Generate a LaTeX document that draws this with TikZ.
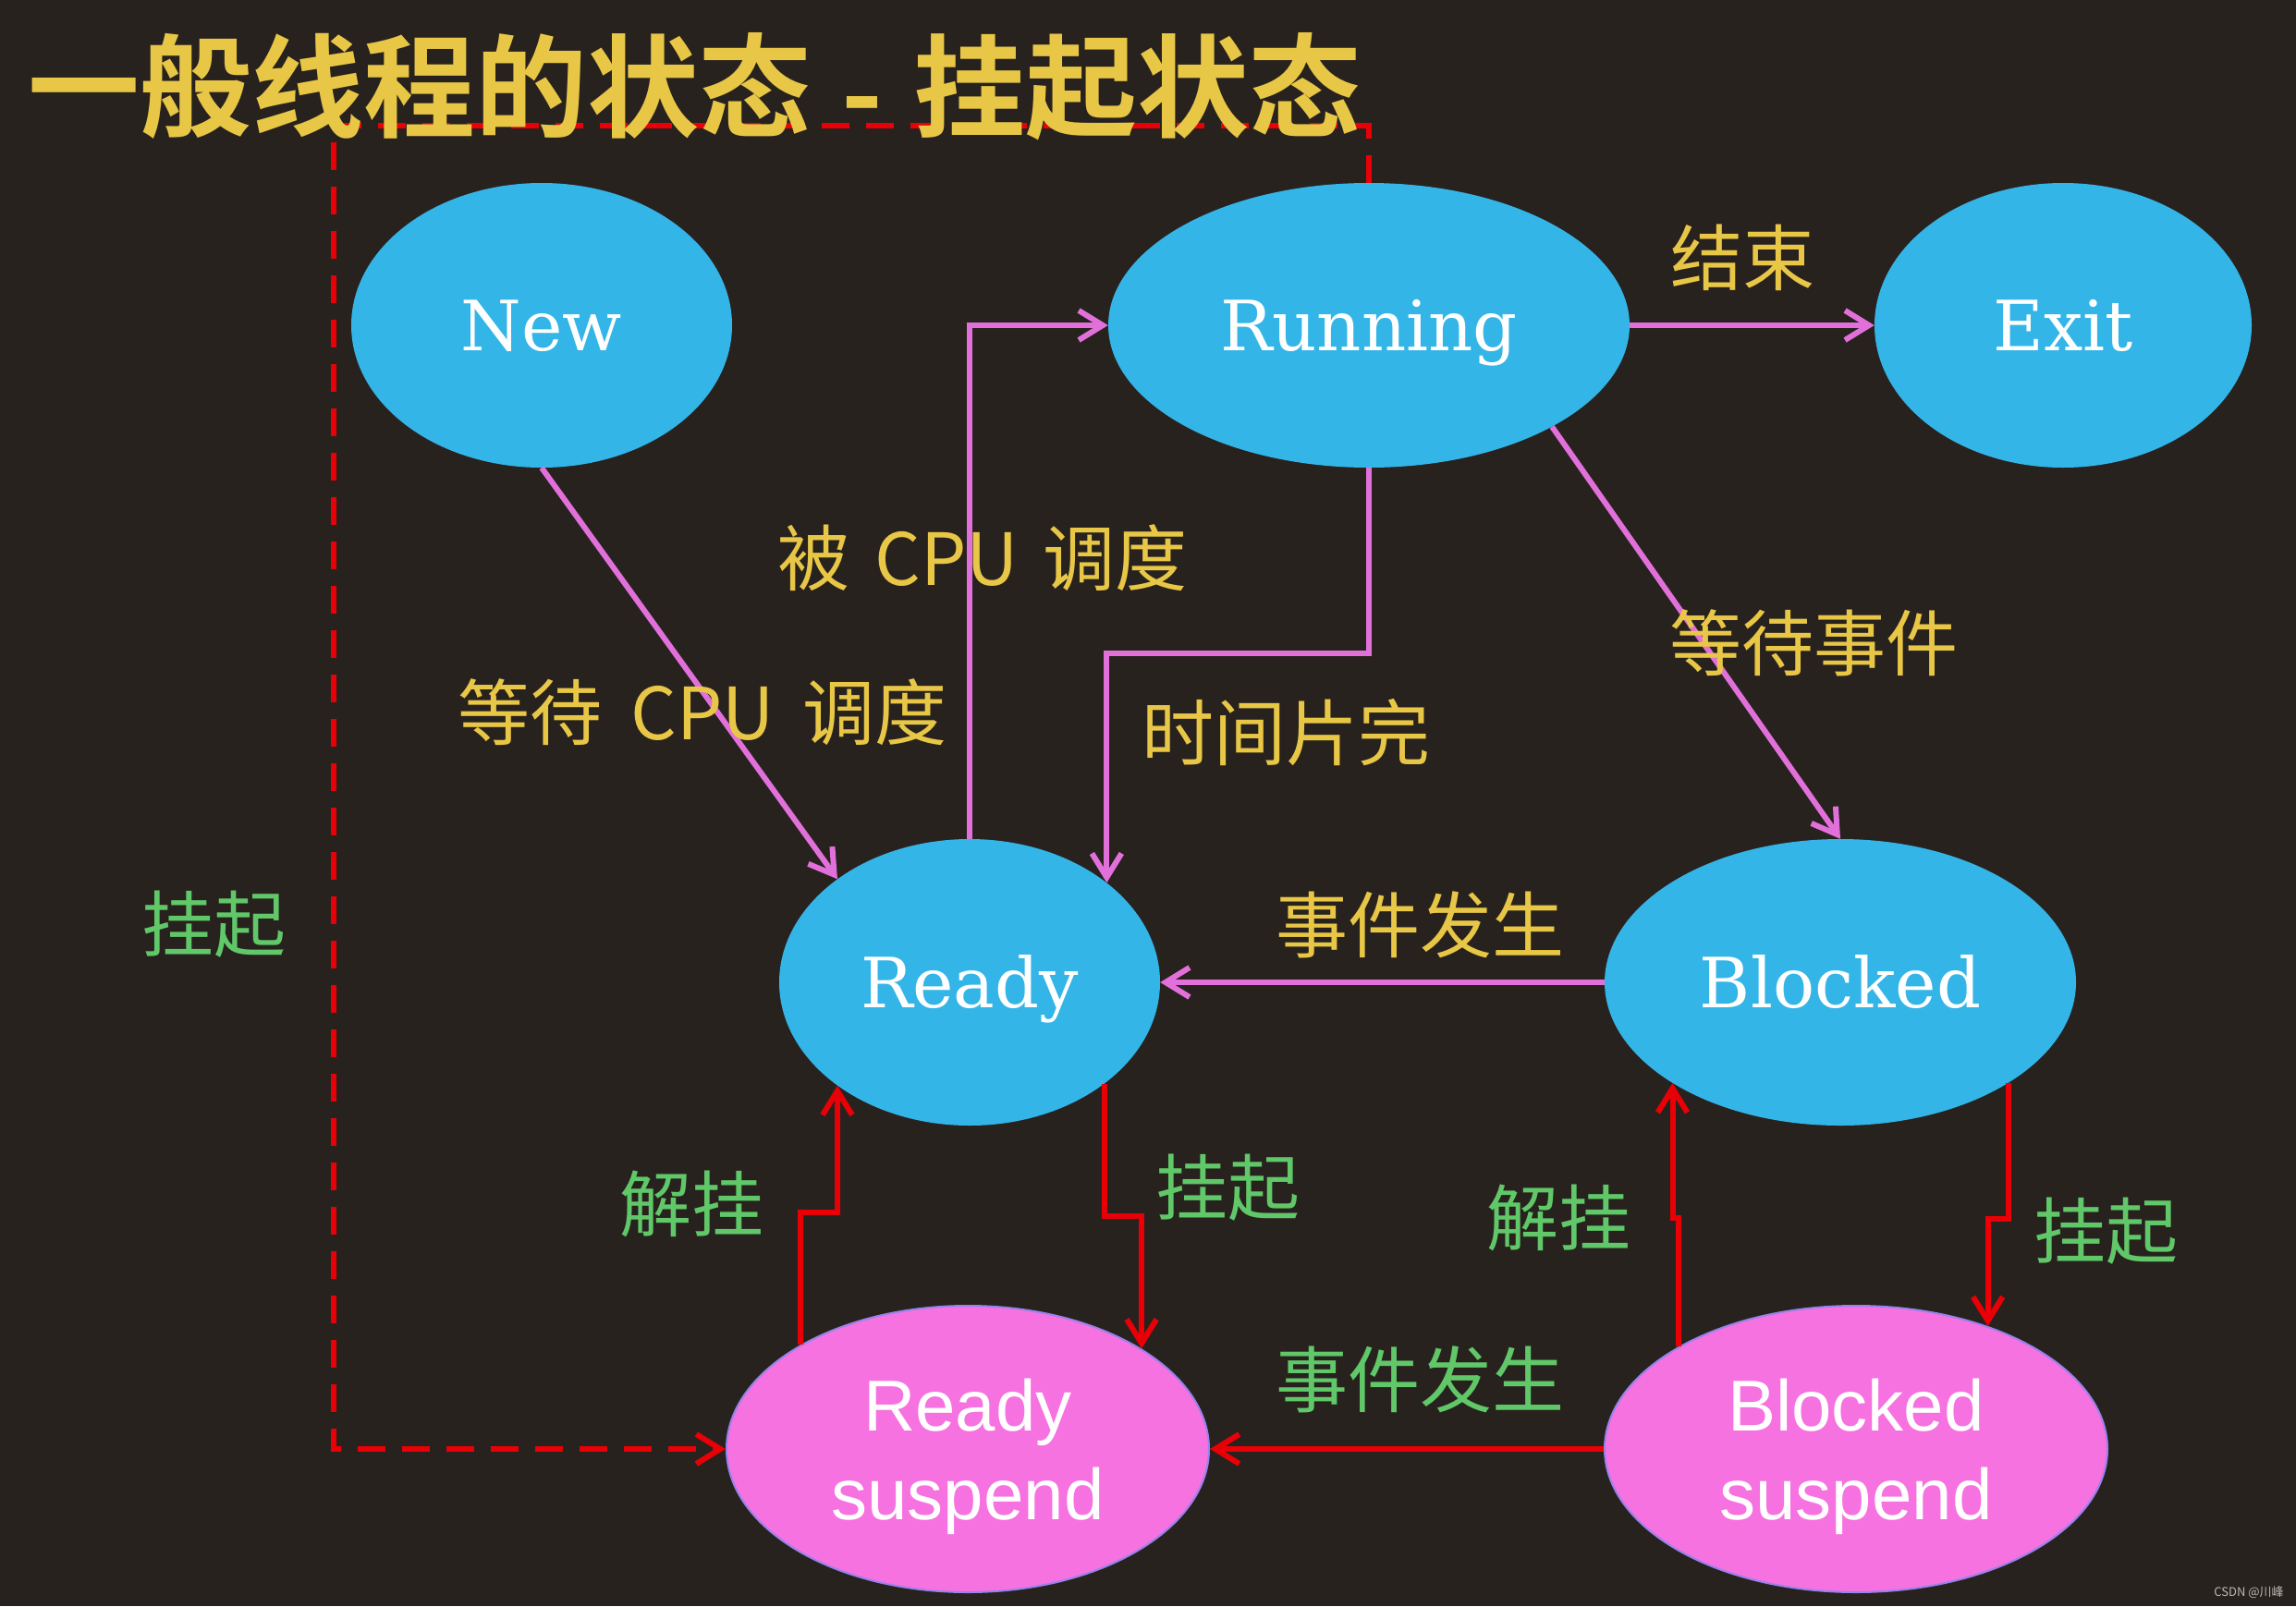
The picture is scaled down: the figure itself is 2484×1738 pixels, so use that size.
\documentclass[tikz,border=0pt]{standalone}
\usepackage{fontspec}
\newfontfamily\cjk{Noto Sans CJK SC}
\newfontfamily\cjkbold{Noto Sans CJK SC Bold}
\newfontfamily\serifnode{DejaVu Serif}
\newfontfamily\sansnode{Liberation Sans}
\usetikzlibrary{shapes.geometric,arrows.meta}
\definecolor{bgc}{RGB}{40,34,31}
\definecolor{bluec}{RGB}{52,181,232}
\definecolor{pinkc}{RGB}{246,114,224}
\definecolor{pinkedge}{RGB}{150,130,235}
\definecolor{linkc}{RGB}{226,112,218}
\definecolor{redc}{RGB}{232,0,6}
\definecolor{ylw}{RGB}{232,198,70}
\definecolor{grn}{RGB}{96,200,104}
\definecolor{wmc}{RGB}{185,185,185}
\tikzset{
  state/.style={ellipse, fill=bluec, text=white, inner sep=0pt,
    font=\serifnode\fontsize{75}{75}\selectfont, text height=54pt, text depth=0pt},
  suspstate/.style={ellipse, fill=pinkc, draw=pinkedge, line width=2pt, text=white, inner sep=0pt,
    align=center, font=\sansnode\fontsize{78}{96}\selectfont, text depth=0pt},
  pinkarrow/.style={draw=linkc, line width=6pt, -{Straight Barb[length=26pt,width=32pt]}},
  redarrow/.style={draw=redc, line width=6pt, -{Straight Barb[length=26pt,width=32pt]}},
  reddash/.style={draw=redc, line width=6pt, dash pattern=on 30pt off 18pt, -{Straight Barb[length=26pt,width=32pt]}},
  ylab/.style={text=ylw, inner sep=0pt, font=\cjk\fontsize{78}{78}\selectfont},
  glab/.style={text=grn, inner sep=0pt, font=\cjk\fontsize{78}{78}\selectfont}
}
\begin{document}
\begin{tikzpicture}[x=1pt,y=-1pt]
\useasboundingbox (0,0) rectangle (2484,1738);
\fill[bgc] (0,0) rectangle (2484,1738);

% states
\node[state, minimum width=412pt, minimum height=308pt] (New) at (586,352) {New};
\node[state, minimum width=564pt, minimum height=308pt] (Running) at (1481,352) {Running};
\node[state, minimum width=408pt, minimum height=308pt] (Exit) at (2232,352) {Exit};
\node[state, minimum width=412pt, minimum height=310pt] (Ready) at (1049,1063) {Ready};
\node[state, minimum width=510pt, minimum height=310pt] (Blocked) at (1991,1063) {Blocked};
\node[suspstate, minimum width=522pt, minimum height=310pt] (RS) at (1047,1568) {Ready\\suspend};
\node[suspstate, minimum width=544pt, minimum height=310pt] (BS) at (2008,1568) {Blocked\\suspend};

% dashed suspend path from Running
\coordinate (dtl) at (361,136);
\coordinate (dbl) at (361,1568);
\draw[reddash] (Running.north) |- (dtl) -- (dbl) -- (RS.west);

% title
\node[anchor=west, inner sep=0pt, text=ylw, font=\cjkbold\fontsize{121}{121}\selectfont] (title) at (30,94)
  {一般线程的状态\makebox[0.92em]{\raisebox{-0.05em}{-}}挂起状态};

% pink transitions
\draw[pinkarrow] (New.south) -- (Ready.142);
\draw[pinkarrow] (Ready.north) |- (Running.west);
\draw[pinkarrow] (Running.south) -- ++(0,201) -| (Ready.36);
\draw[pinkarrow] (Running.east) -- (Exit.west);
\draw[pinkarrow] (Running.-29) -- (Blocked.north);
\draw[pinkarrow] (Blocked.west) -- (Ready.east);

% red transitions
\draw[redarrow] (RS.148.6) -- ++(0,-143) -| (Ready.218);
\draw[redarrow] (Ready.323) -- ++(0,143) -| (RS.30);
\draw[redarrow] (BS.150) -- ++(0,-139) -| (Blocked.211.6);
\draw[redarrow] (Blocked.329) -- ++(0,147) -| (BS.43);
\draw[redarrow] (BS.west) -- (RS.east);

% labels
\node[ylab] (lcpu1) at (1063,604) {被\hspace{0.35em}CPU\hspace{0.35em}调度};
\node[ylab] (lcpu2) at (760,771) {等待\hspace{0.4em}CPU\hspace{0.4em}调度};
\node[ylab] (lslice) at (1391,793) {时间片完};
\node[ylab] (lend) at (1885,279) {结束};
\node[ylab] (lwait) at (1962,696) {等待事件};
\node[ylab] (levt1) at (1536,1001) {事件发生};
\node[glab] (lsus0) at (231,1000) {挂起};
\node[glab] (lres1) at (748,1303) {解挂};
\node[glab] (lsus1) at (1328,1285) {挂起};
\node[glab] (lres2) at (1686,1318) {解挂};
\node[glab] (lsus2) at (2278,1332) {挂起};
\node[glab] (levt2) at (1536,1493) {事件发生};

% watermark
\node[text=wmc, inner sep=0pt, font=\cjk\fontsize{13}{13}\selectfont] (wm) at (2433,1723) {CSDN @川峰};
\end{tikzpicture}
\end{document}
